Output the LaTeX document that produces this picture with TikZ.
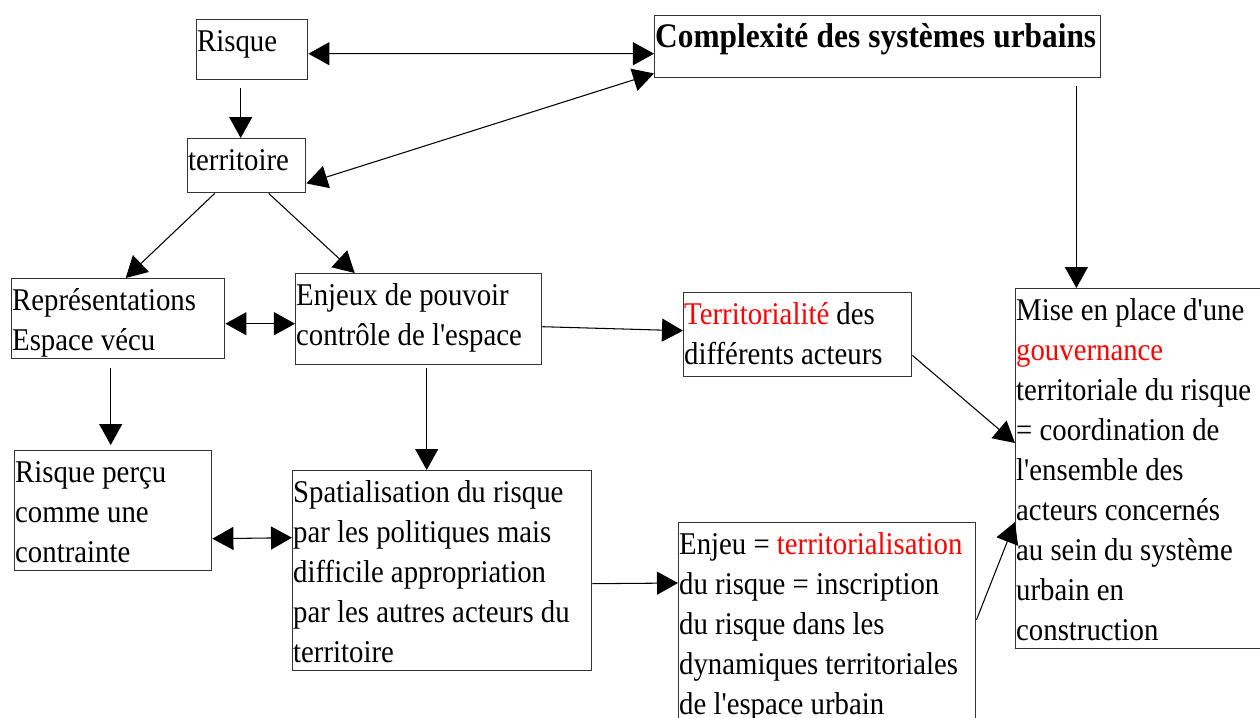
\documentclass[tikz,border=0pt]{standalone}
\usepackage{fontspec}
\setmainfont{Liberation Serif}[FakeStretch=0.91, Ligatures=TeXOff]
\usetikzlibrary{arrows.meta}
\tikzset{
  bloc/.style={draw=black!80, line width=0.4pt, inner xsep=0.05mm, inner ysep=0pt,
    anchor=north west, font=\fontsize{9}{11.38}\selectfont},
  fleche/.style={-{Triangle[length=2.1mm,width=2.3mm]}, line width=0.3pt},
  bifleche/.style={{Triangle[length=2.1mm,width=2.3mm]}-{Triangle[length=2.1mm,width=2.3mm]}, line width=0.3pt},
}
\newcommand{\cadre}[3]{\parbox[t][#2][t]{#1}{\raggedright\rule{0pt}{3.2mm}#3}}
\newcommand{\rouge}[1]{\textcolor{red}{#1}}

\begin{document}
\begin{tikzpicture}
  \useasboundingbox (0,0) rectangle (12.6,-7.18);
  \clip (0,0) rectangle (12.6,-7.18);
  % boites
  \node[bloc] (risque) at (1.96,-0.19) {\cadre{11mm}{6mm}{Risque}};
  \node[bloc] (complexite) at (6.54,-0.15)
    {\cadre{44.5mm}{6.2mm}{\fontsize{9.8}{11.38}\selectfont\textbf{\makebox[44.1mm][s]{Complexité des systèmes urbains}}}};
  \node[bloc] (territoire) at (1.87,-1.38) {\cadre{11.7mm}{5.4mm}{territoire}};
  \node[bloc] (representations) at (0.11,-2.78) {\cadre{21.2mm}{8mm}{Représentations\\Espace vécu}};
  \node[bloc] (enjeux) at (2.95,-2.73) {\cadre{24.5mm}{9.1mm}{Enjeux de pouvoir\\contrôle de l'espace}};
  \node[bloc] (percu) at (0.14,-4.50) {\cadre{19.6mm}{12mm}{Risque perçu\\comme une\\contrainte}};
  \node[bloc] (spatial) at (2.92,-4.70) {\cadre{29.8mm}{20mm}{Spatialisation du risque\\par les politiques mais\\difficile appropriation\\par les autres acteurs du\\territoire}};
  \node[bloc] (territorialite) at (6.83,-2.92) {\cadre{22.7mm}{8.4mm}{\rouge{Territorialité} des\\différents acteurs}};
  \node[bloc] (enjeu) at (6.78,-5.22) {\cadre{29.6mm}{22mm}{Enjeu = \rouge{territorialisation}\\du risque = inscription\\du risque dans les\\dynamiques territoriales\\de l'espace urbain}};
  \node[bloc] (mise) at (10.15,-2.88) {\cadre{25.9mm}{36mm}{Mise en place d'une\\\rouge{gouvernance}\\territoriale du risque\\= coordination de\\l'ensemble des\\acteurs concernés\\au sein du système\\urbain en\\construction}};
  % liens
  \draw[bifleche] ([yshift=-0.4mm]risque.east) -- ([yshift=-0.7mm]complexite.west);
  \draw[fleche] ([xshift=-1.15mm,yshift=-0.8mm]risque.south) -- ([xshift=-1.15mm]risque.south |- territoire.north);
  \draw[bifleche] ([yshift=1mm]territoire.south east) -- ([yshift=0.5mm]complexite.south west);
  \draw[fleche] ([xshift=-3.2mm]territoire.south) -- ([xshift=0.75mm]representations.north);
  \draw[fleche] ([xshift=2.2mm]territoire.south) -- ([xshift=-6.4mm]enjeux.north);
  \draw[bifleche] ([yshift=-0.5mm]representations.east) -- ([yshift=-0.5mm]representations.east -| enjeux.west);
  \draw[fleche] ([xshift=-0.75mm,yshift=-0.9mm]representations.south) -- ([xshift=-0.75mm,yshift=0.5mm]representations.south |- percu.north);
  \draw[fleche] ([xshift=0.8mm,yshift=-0.3mm]enjeux.south) -- ([xshift=0.8mm]enjeux.south |- spatial.north);
  \draw[bifleche] ([yshift=-2.8mm]percu.east) -- ([yshift=3.3mm]spatial.west);
  \draw[fleche] ([yshift=-0.75mm]enjeux.east) -- ([yshift=0.4mm]territorialite.west);
  \draw[fleche] ([yshift=-1.3mm]spatial.east) -- ([yshift=-6.1mm]enjeu.north west);
  \draw[fleche] ([yshift=2.2mm]territorialite.south east) -- ([yshift=-15.5mm]mise.north west);
  \draw[fleche] ([yshift=-9.8mm]enjeu.north east) -- ([yshift=-23.4mm]mise.north west);
  \draw[fleche] ([xshift=-2.5mm,yshift=-0.8mm]complexite.south east) -- ([xshift=-2.5mm]complexite.south east |- mise.north);
\end{tikzpicture}
\end{document}
